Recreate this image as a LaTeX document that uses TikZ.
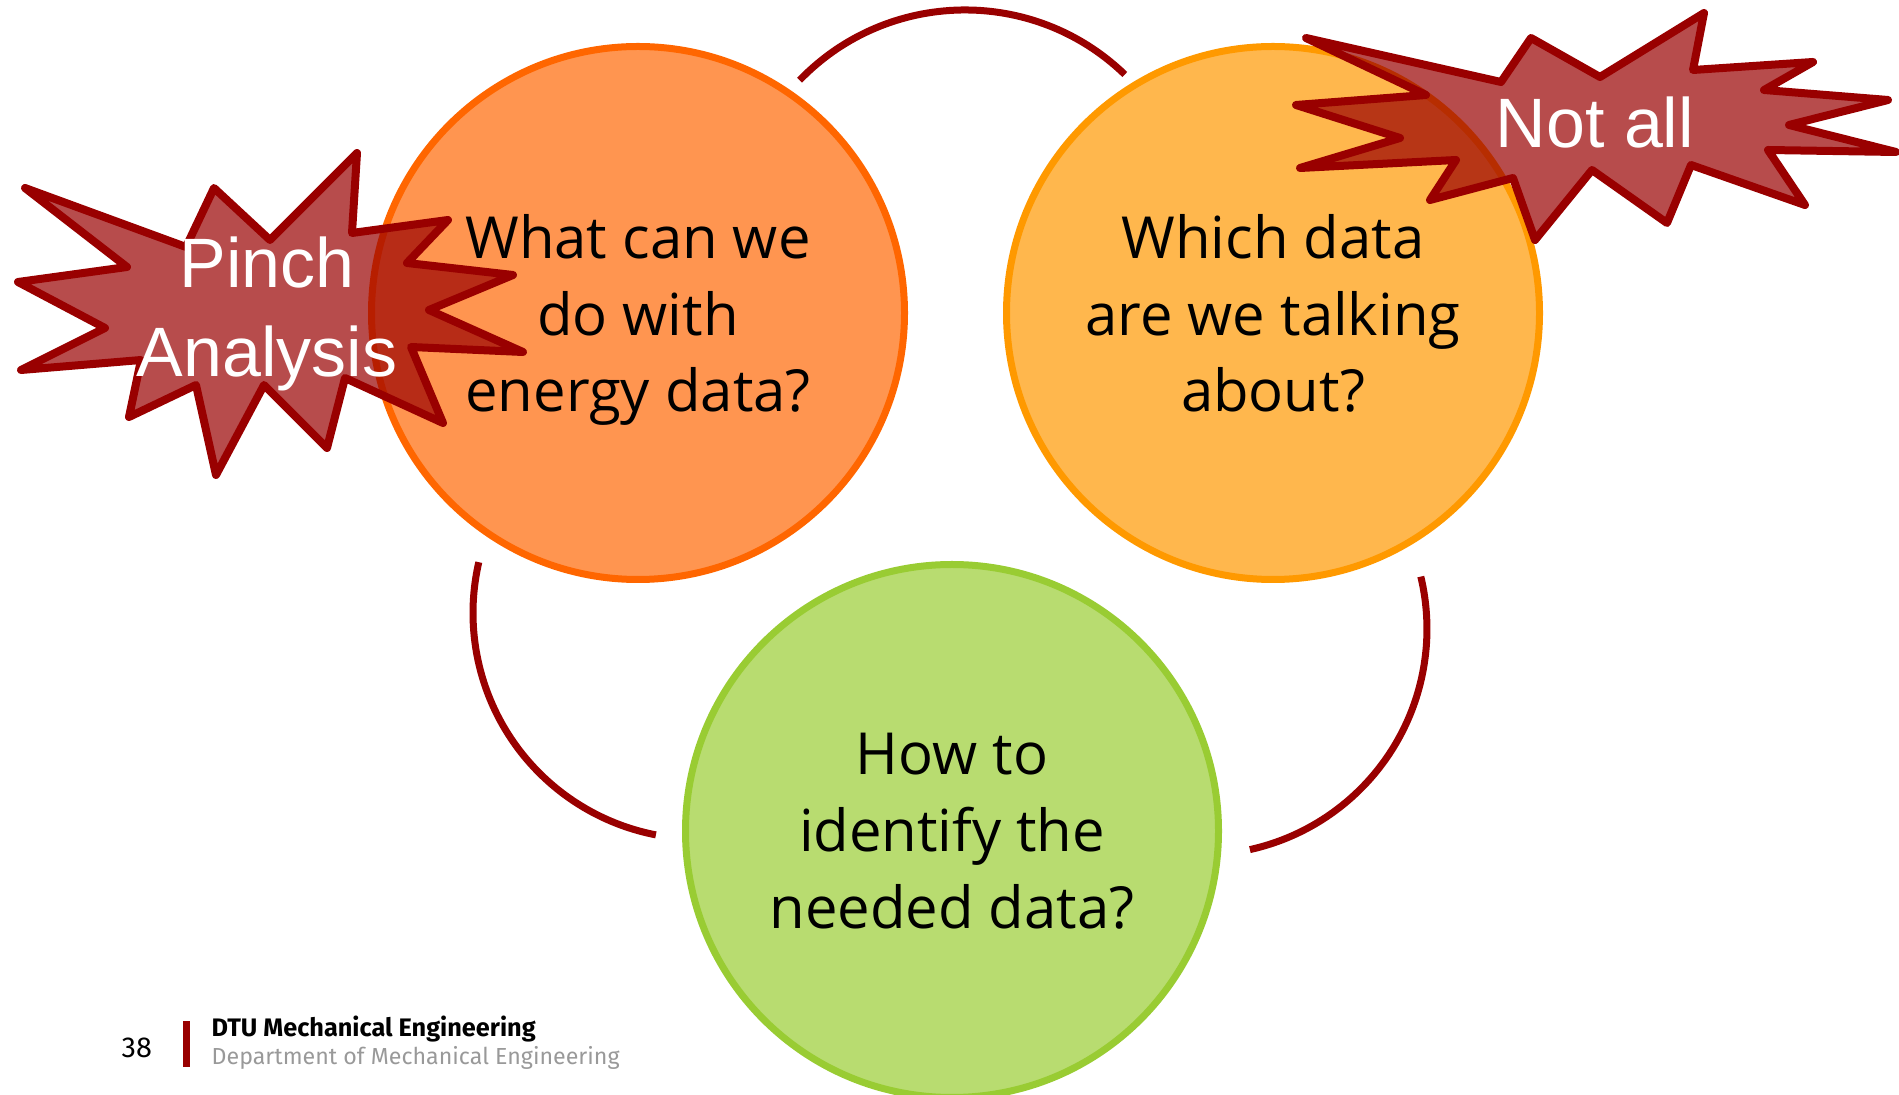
\documentclass[tikz,border=0pt]{standalone}
\usepackage{fontspec}
\setmainfont{Open Sans}
\newfontfamily\burstfont{Liberation Sans}
\newfontfamily\footfont{Fira Sans}
\usepackage{xcolor}
\usetikzlibrary{arrows.meta}
\usetikzlibrary{positioning}
\definecolor{dtured}{HTML}{990000}
\definecolor{whatfill}{HTML}{FF9550}
\definecolor{whatline}{HTML}{FF6600}
\definecolor{whichfill}{HTML}{FFB74D}
\definecolor{whichline}{HTML}{FF9900}
\definecolor{howfill}{HTML}{B8DC70}
\definecolor{howline}{HTML}{99CC33}

\begin{document}
\begin{tikzpicture}[
            bubble/.style={circle, line width=0.07cm, minimum size=5.33cm, inner sep=0pt, align=center, text depth=0pt, font=\fontsize{16.5}{21.9}\selectfont},
            burst/.style={draw=dtured, fill=dtured, fill opacity=0.7, line width=0.08cm, line join=round},
            bursttext/.style={white, align=center, inner sep=0pt, font=\burstfont\fontsize{19.9}{25.3}\selectfont},
            cyclearc/.style={dtured, line width=0.07cm},
            foottext/.style={anchor=base west, inner sep=0pt}
        ]
            \useasboundingbox (0,0) rectangle (18.99,-10.95);

            \node[bubble, draw=whatline, fill=whatfill] (whatq) at (6.38,-3.13) {What can we\\do with\\energy data?};
            \node[bubble, draw=whichline, fill=whichfill] (whichq) at (12.73,-3.13) {Which data\\are we talking\\about?};
            \node[bubble, draw=howline, fill=howfill] (howq) at (9.52,-8.31) {How to\\identify the\\needed data?};

            \coordinate (arcTop) at (7.996,-0.802);
            \coordinate (arcLeft) at (4.788,-5.622);
            \coordinate (arcRight) at (14.208,-5.766);
            \draw[cyclearc] (arcTop) arc[start angle=136, end angle=46, radius=2.3];
            \draw[cyclearc] (arcLeft) arc[start angle=167, end angle=259, radius=2.26];
            \draw[cyclearc] (arcRight) arc[start angle=13.4, end angle=-77.5, radius=2.26];

            \draw[burst] (0.25,-1.88) -- (1.86,-2.47) -- (2.14,-1.88) -- (2.70,-2.40) -- (3.57,-1.53) -- (3.52,-2.33) -- (4.48,-2.20) -- (4.07,-2.63) -- (5.13,-2.75) -- (4.29,-3.10) -- (5.23,-3.52) -- (4.11,-3.47) -- (4.43,-4.23) -- (3.45,-3.78) -- (3.27,-4.48) -- (2.64,-3.85) -- (2.16,-4.75) -- (1.96,-3.85) -- (1.29,-4.17) -- (1.41,-3.60) -- (0.21,-3.70) -- (1.05,-3.28) -- (0.18,-2.82) -- (1.27,-2.67) -- cycle;
            \draw[burst] (13.06,-0.38) -- (14.26,-0.95) -- (12.96,-1.05) -- (14.00,-1.38) -- (13.00,-1.68) -- (14.56,-1.60) -- (14.30,-2.00) -- (15.13,-1.78) -- (15.35,-2.40) -- (15.92,-1.70) -- (16.67,-2.23) -- (16.91,-1.65) -- (18.05,-2.05) -- (17.68,-1.50) -- (18.96,-1.52) -- (17.89,-1.25) -- (18.88,-1.00) -- (17.64,-0.90) -- (18.13,-0.62) -- (16.93,-0.70) -- (17.04,-0.13) -- (16.00,-0.77) -- (15.31,-0.38) -- (15.01,-0.82) -- cycle;

            \node[bursttext] (pinch) at (2.67,-3.14) {Pinch\\Analysis};
            \node[bursttext] (notall) at (15.95,-1.225) {Not all};

            \fill[dtured] (1.83,-10.21) rectangle (1.90,-10.67);
            \node[foottext, font=\footfont\fontsize{8.2}{9}\selectfont] (pagenum) at (1.21,-10.57) {38};
            \node[foottext, font=\footfont\bfseries\fontsize{7.2}{9}\selectfont] (dtu) at (2.11,-10.37) {DTU Mechanical Engineering};
            \node[foottext, gray!80, font=\footfont\fontsize{6.6}{9}\selectfont] (dept) at (2.11,-10.64) {Department of Mechanical Engineering};
        \end{tikzpicture}
\end{document}
